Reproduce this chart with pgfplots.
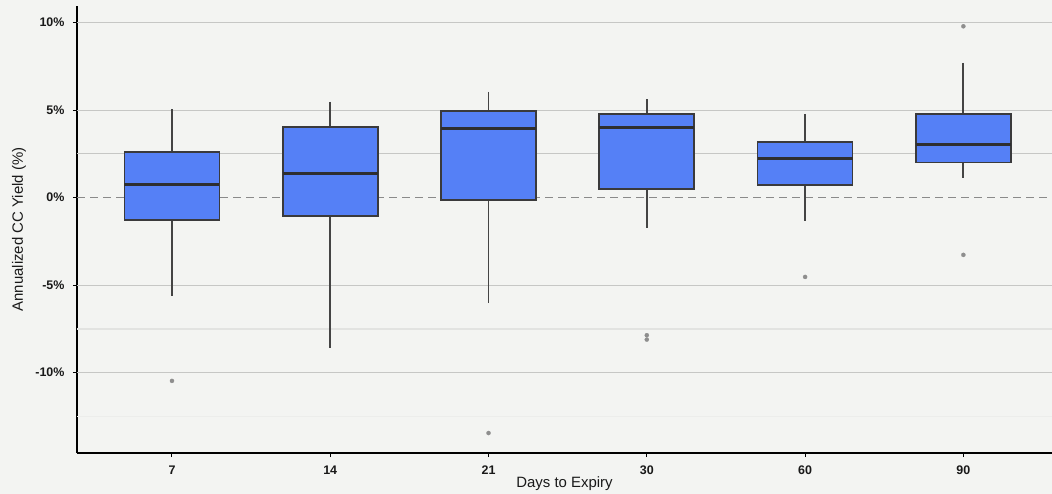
\documentclass[border=0pt]{standalone}
\usepackage{pgfplots}
\pgfplotsset{compat=1.18}
\usepgfplotslibrary{statistics}
\usepackage{fontspec}
\setmainfont{Liberation Sans}
\definecolor{bg}{HTML}{F3F4F2}
\definecolor{boxblue}{HTML}{5580F6}
\definecolor{boxedge}{HTML}{3A3A3C}
\definecolor{meddark}{HTML}{2E2E30}
\definecolor{whisk}{HTML}{444444}
\definecolor{gridc}{HTML}{C6C7C5}
\definecolor{gridl}{HTML}{E2E3E1}
\definecolor{gridf}{HTML}{ECEDEB}
\definecolor{zeroc}{HTML}{8A8A8A}
\definecolor{outl}{HTML}{8E8E8E}
\begin{document}
\begin{tikzpicture}
\fill[bg] (0bp,0bp) rectangle (1052bp,494bp);
\begin{axis}[
  at={(77bp,41bp)}, anchor=south west,
  width=975bp, height=447bp, scale only axis,
  xmin=-0.6, xmax=5.56, ymin=-14.59, ymax=10.95,
  axis x line*=bottom, axis y line*=left,
  axis line style={-, black, line width=1.3bp},
  xtick={0,1,2,3,4,5}, xticklabels={7,14,21,30,60,90},
  ytick={-10,-5,0,5,10}, yticklabels={-10\%,-5\%,0\%,5\%,10\%},
  tick align=outside, major tick length=4bp,
  tick style={black, line width=1bp},
  ticklabel style={font=\fontsize{12.5}{14}\selectfont\bfseries, text=black!90},
  xticklabel style={yshift=-5bp},
  yticklabel style={xshift=-5bp},
  xlabel={Days to Expiry}, ylabel={Annualized CC Yield (\%)},
  label style={font=\fontsize{15}{18}\selectfont, text=black!90},
  xlabel style={at={(axis description cs:0.5,-0.07606)}, anchor=base},
  ylabel style={at={(axis description cs:-0.0554,0.5)}, anchor=base},
  boxplot/draw direction=y,
  boxstyle/.style={draw=boxedge, fill=boxblue, line width=1.7bp,
    mark=*, mark size=2.1bp, mark options={solid, fill=outl, draw=outl, line width=0.2bp},
    boxplot/draw direction=y,
    boxplot/every median/.style={draw=meddark, line width=3bp},
    boxplot/every whisker/.style={draw=whisk, line width=1.9bp}},
]
% grid lines
\addplot[gridc, line width=1bp, forget plot] coordinates {(-0.6,10) (5.56,10)};
\addplot[gridc, line width=1bp, forget plot] coordinates {(-0.6,5) (5.56,5)};
\addplot[gridc, line width=1bp, forget plot] coordinates {(-0.6,2.5) (5.56,2.5)};
\addplot[gridc, line width=1bp, forget plot] coordinates {(-0.6,-5) (5.56,-5)};
\addplot[gridl, line width=1.4bp, forget plot] coordinates {(-0.6,-7.5) (5.56,-7.5)};
\addplot[gridc, line width=1.2bp, forget plot] coordinates {(-0.6,-10) (5.56,-10)};
\addplot[gridf, line width=1bp, forget plot] coordinates {(-0.6,-12.5) (5.56,-12.5)};
\addplot[zeroc, line width=1.4bp, dash pattern=on 8bp off 5bp, forget plot] coordinates {(-0.6,0) (5.56,0)};
% boxes
\addplot[boxstyle, boxplot prepared={draw position=0, lower whisker=-5.60, lower quartile=-1.27, median=0.73, upper quartile=2.61, upper whisker=5.07, box extend=0.6, whisker extend=0, draw direction=y}]
  table[row sep=\\, y index=0] {y\\ -10.47\\};
\addplot[boxstyle, boxplot prepared={draw position=1, lower whisker=-8.57, lower quartile=-1.06, median=1.37, upper quartile=4.04, upper whisker=5.49, box extend=0.6, whisker extend=0, draw direction=y}]
  coordinates {};
\addplot[boxstyle, boxplot prepared={draw position=2, lower whisker=-6.02, lower quartile=-0.13, median=3.94, upper quartile=4.95, upper whisker=6.06, box extend=0.6, whisker extend=0, draw direction=y}]
  table[row sep=\\, y index=0] {y\\ -13.45\\};
\addplot[boxstyle, boxplot prepared={draw position=3, lower whisker=-1.73, lower quartile=0.50, median=4.03, upper quartile=4.78, upper whisker=5.64, box extend=0.6, whisker extend=0, draw direction=y}]
  table[row sep=\\, y index=0] {y\\ -7.86\\ -8.11\\};
\addplot[boxstyle, boxplot prepared={draw position=4, lower whisker=-1.33, lower quartile=0.73, median=2.21, upper quartile=3.18, upper whisker=4.78, box extend=0.6, whisker extend=0, draw direction=y}]
  table[row sep=\\, y index=0] {y\\ -4.53\\};
\addplot[boxstyle, boxplot prepared={draw position=5, lower whisker=1.14, lower quartile=2.00, median=3.05, upper quartile=4.78, upper whisker=7.71, box extend=0.6, whisker extend=0, draw direction=y}]
  table[row sep=\\, y index=0] {y\\ 9.79\\ -3.27\\};
\end{axis}
\pgfresetboundingbox
\useasboundingbox (0bp,0bp) rectangle (1052bp,494bp);
\end{tikzpicture}
\end{document}
